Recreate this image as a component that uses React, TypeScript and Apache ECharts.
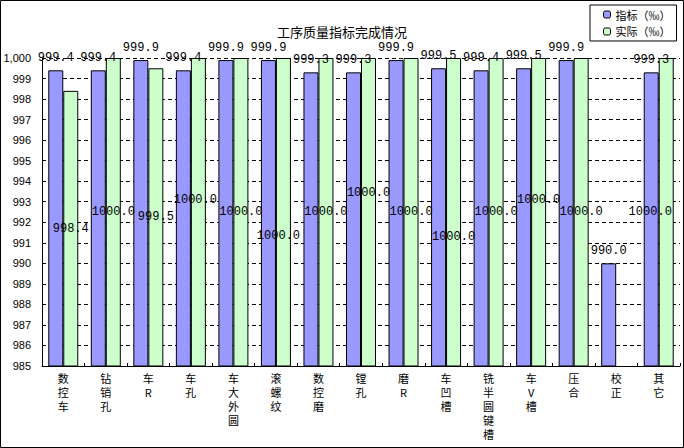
import React, { useEffect, useRef } from "react";
import * as echarts from "echarts";

const categories = ["数控车", "钻销孔", "车R", "车孔", "车大外圆", "滚螺纹", "数控磨", "镗孔", "磨R", "车凹槽", "铣半圆键槽", "车V槽", "压合", "校正", "其它"];
const targetValues = [999.4, 999.4, 999.9, 999.4, 999.9, 999.9, 999.3, 999.3, 999.9, 999.5, 999.4, 999.5, 999.9, 990.0, 999.3];
const actualValues: (number | null)[] = [998.4, 1000, 999.5, 1000, 1000, 1000, 1000, 1000, 1000, 1000, 1000, 1000, 1000, null, 1000];
const seriesNames = ["指标（‰）", "实际（‰）"];
const title = "工序质量指标完成情况";
const yMin = 985;
const yMax = 1000;
const yInterval = 1;

// label nudges (pixels) for the "actual" labels, as placed in the original
const actualLabelShiftY = [0, 0, 0, -12, 0, 24, 0, -19, 0, 25, 0, -12, 0, 0, 0];
const actualLabelShiftX = [0, 0, 0, -3, 0, -5, 0, 0, 0, 0, 0, 0, 0, 0, -16];

export default function App() {
  const ref = useRef<HTMLDivElement>(null);
  useEffect(() => {
    document.body.style.margin = "0";
    const chart = echarts.init(ref.current!, null, { renderer: "svg" });
    const labelFont = { fontFamily: "Liberation Mono", fontSize: 12, color: "#000" };
    chart.setOption({
      animation: false,
      backgroundColor: "#fff",
      title: {
        text: title,
        left: "center",
        top: 20,
        textStyle: { fontFamily: "Noto Sans CJK SC", fontSize: 13, fontWeight: "normal", color: "#000" },
      },
      legend: {
        orient: "vertical",
        left: 590,
        top: 5,
        padding: [4, 6, 4, 13],
        borderColor: "#000",
        borderWidth: 1,
        itemWidth: 7,
        itemHeight: 7,
        itemGap: 6,
        itemStyle: { borderColor: "#000", borderWidth: 1 },
        textStyle: { fontFamily: "Noto Sans CJK SC", fontSize: 11, color: "#000" },
        data: seriesNames,
      },
      grid: { left: 42, right: 4, top: 58, bottom: 82 },
      xAxis: {
        type: "category",
        data: categories,
        axisLine: { lineStyle: { color: "#000", width: 1 } },
        axisTick: { show: true, inside: true, length: 3, lineStyle: { color: "#000" } },
        axisLabel: {
          interval: 0,
          margin: 5,
          lineHeight: 14,
          fontFamily: "Noto Sans CJK SC",
          fontSize: 11,
          color: "#000",
          formatter: (v: string) => v.split("").join("\n"),
        },
      },
      yAxis: {
        type: "value",
        min: yMin,
        max: yMax,
        interval: yInterval,
        axisLine: { show: true, lineStyle: { color: "#000", width: 1 } },
        axisTick: { show: false },
        axisLabel: { margin: 11, fontFamily: "Liberation Sans", fontSize: 11, color: "#000" },
        splitLine: { show: true, lineStyle: { color: "#000", type: [4, 3], width: 1 } },
      },
      series: [
        {
          name: seriesNames[0],
          type: "bar",
          barWidth: 15,
          barGap: "0%",
          data: targetValues,
          itemStyle: { color: "#9999FF", borderColor: "#000", borderWidth: 1 },
          label: {
            show: true,
            position: "top",
            distance: 6,
            ...labelFont,
            formatter: (p: any) => Number(p.value).toFixed(1),
          },
        },
        {
          name: seriesNames[1],
          type: "bar",
          barWidth: 15,
          data: actualValues.map((v, i) =>
            v === null
              ? null
              : { value: v, label: { offset: [actualLabelShiftX[i], actualLabelShiftY[i]] } }
          ),
          itemStyle: { color: "#CCFFCC", borderColor: "#000", borderWidth: 1 },
          label: {
            show: true,
            position: "inside",
            ...labelFont,
            formatter: (p: any) => Number(p.value).toFixed(1),
          },
        },
      ],
      graphic: [
        {
          type: "rect",
          shape: { x: 0.5, y: 0.5, width: 683, height: 447 },
          style: { fill: "none", stroke: "#000", lineWidth: 1 },
          silent: true,
        },
      ],
    });
    return () => chart.dispose();
  }, []);
  return <div ref={ref} style={{ width: 684, height: 448 }} />;
}
